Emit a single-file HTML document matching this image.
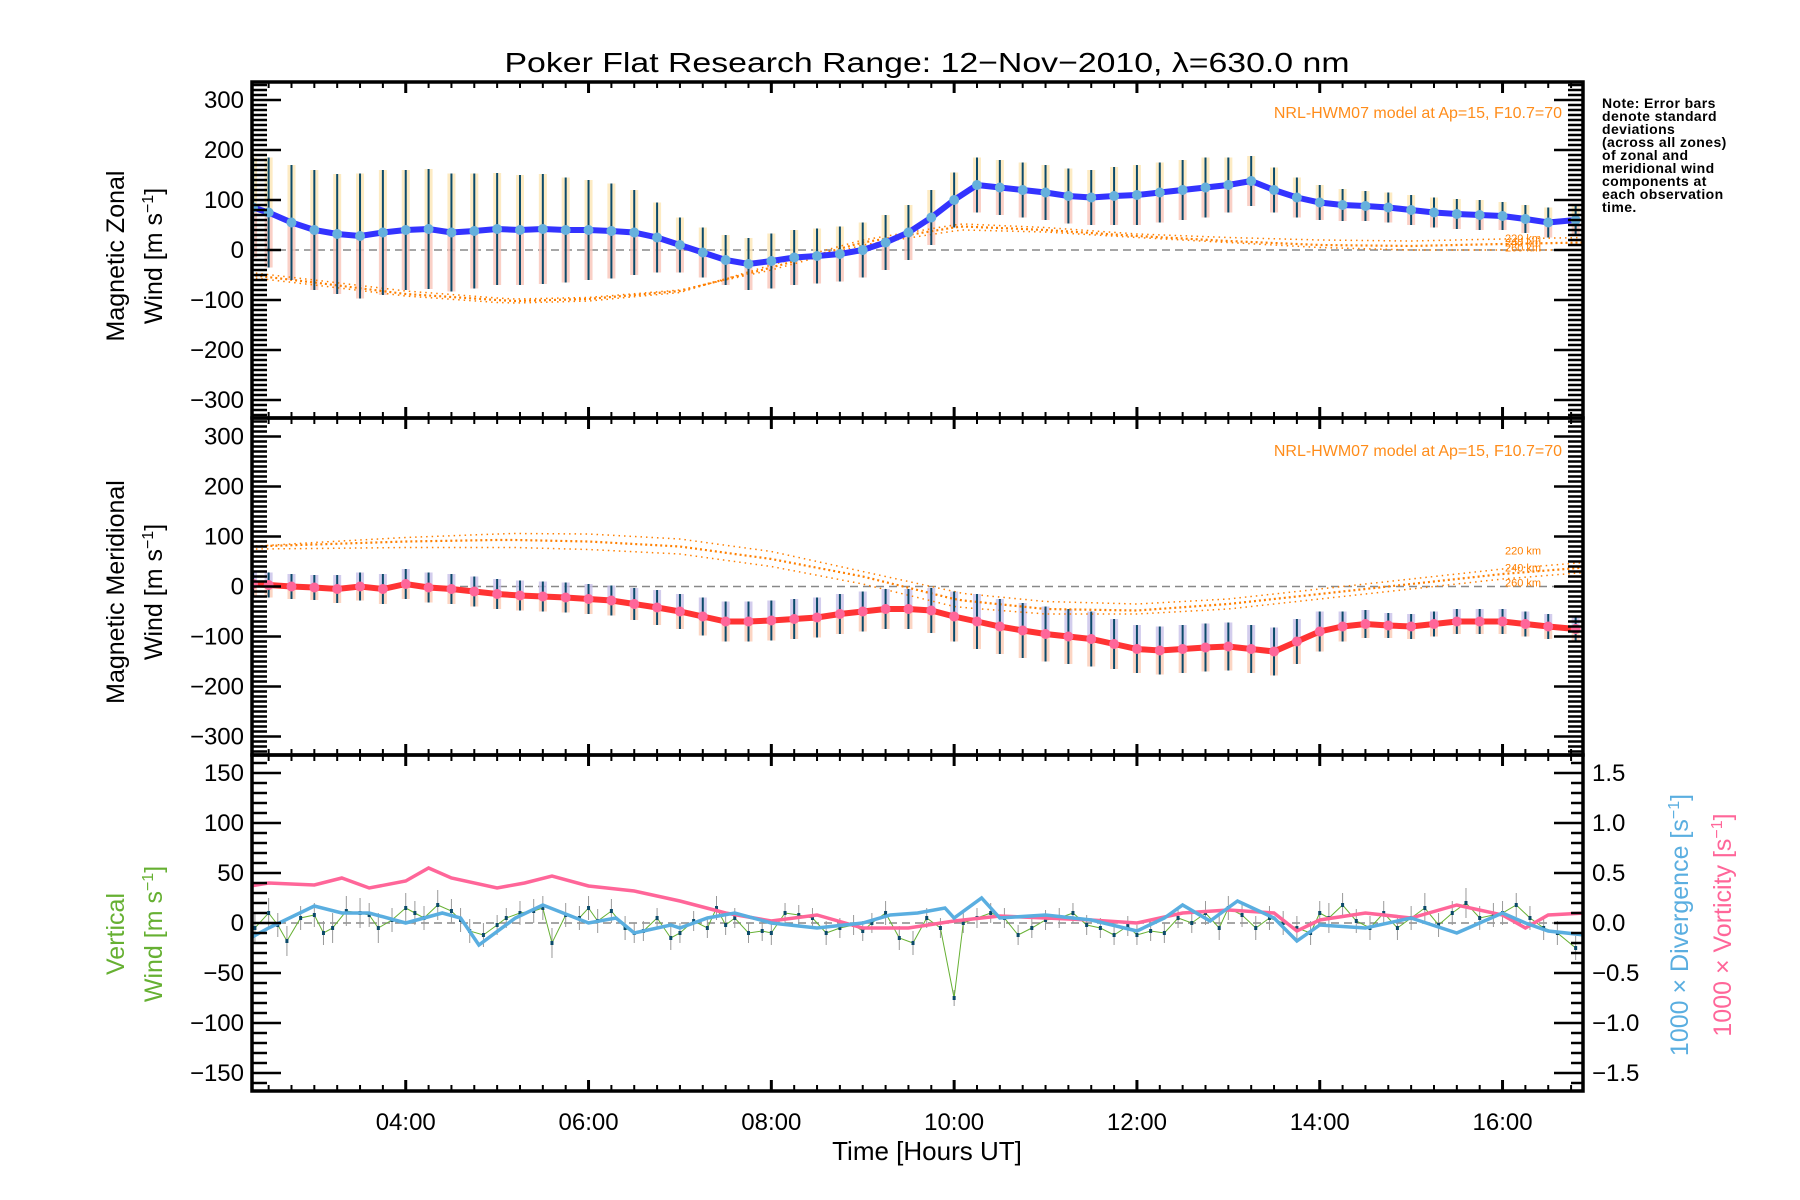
<!DOCTYPE html>
<html><head><meta charset="utf-8"><style>
html,body{margin:0;padding:0;background:#fff;}
svg{display:block;font-family:"Liberation Sans",sans-serif;}
</style></head><body>
<svg id="c" width="1800" height="1200" viewBox="0 0 1800 1200">
<text x="927" y="72" font-size="28" text-anchor="middle" textLength="845" lengthAdjust="spacingAndGlyphs">Poker Flat Research Range: 12−Nov−2010, λ=630.0 nm</text>
<g font-size="14" font-weight="bold" letter-spacing="0.4">
<text x="1602" y="108">Note: Error bars</text><text x="1602" y="121">denote standard</text><text x="1602" y="134">deviations</text><text x="1602" y="147">(across all zones)</text><text x="1602" y="160">of zonal and</text><text x="1602" y="173">meridional wind</text><text x="1602" y="186">components at</text><text x="1602" y="199">each observation</text><text x="1602" y="212">time.</text>
</g>
<text transform="translate(124,256) rotate(-90)" font-size="25" text-anchor="middle">Magnetic Zonal</text>
<text transform="translate(162,256) rotate(-90)" font-size="25" text-anchor="middle">Wind [m s<tspan font-size="16" dy="-9">−1</tspan><tspan dy="9">]</tspan></text>
<text transform="translate(124,592) rotate(-90)" font-size="25" text-anchor="middle">Magnetic Meridional</text>
<text transform="translate(162,592) rotate(-90)" font-size="25" text-anchor="middle">Wind [m s<tspan font-size="16" dy="-9">−1</tspan><tspan dy="9">]</tspan></text>
<text transform="translate(124,934) rotate(-90)" font-size="25" fill="#66b032" text-anchor="middle">Vertical</text>
<text transform="translate(162,934) rotate(-90)" font-size="25" fill="#66b032" text-anchor="middle">Wind [m s<tspan font-size="16" dy="-9">−1</tspan><tspan dy="9">]</tspan></text>
<text transform="translate(1688,925) rotate(-90)" font-size="25" fill="#5aaee0" text-anchor="middle">1000 × Divergence [s<tspan font-size="16" dy="-9">−1</tspan><tspan dy="9">]</tspan></text>
<text transform="translate(1731,925) rotate(-90)" font-size="25" fill="#ff6699" text-anchor="middle">1000 × Vorticity [s<tspan font-size="16" dy="-9">−1</tspan><tspan dy="9">]</tspan></text>
<text x="927" y="1160" font-size="26" text-anchor="middle">Time [Hours UT]</text>
<text x="1562" y="118" font-size="16" fill="#ff8c1a" text-anchor="end">NRL-HWM07 model at Ap=15, F10.7=70</text>
<text x="1562" y="456" font-size="16" fill="#ff8c1a" text-anchor="end">NRL-HWM07 model at Ap=15, F10.7=70</text>
<g id="plot"></g>
</svg>
<script>
// ---- data ----
const zonalTimes=[2.33,2.5,2.75,3.0,3.25,3.5,3.75,4.0,4.25,4.5,4.75,5.0,5.25,5.5,5.75,6.0,6.25,6.5,6.75,7.0,7.25,7.5,7.75,8.0,8.25,8.5,8.75,9.0,9.25,9.5,9.75,10.0,10.25,10.5,10.75,11.0,11.25,11.5,11.75,12.0,12.25,12.5,12.75,13.0,13.25,13.5,13.75,14.0,14.25,14.5,14.75,15.0,15.25,15.5,15.75,16.0,16.25,16.5,16.8];
const zonalWind=[85,75,55,40,32,28,35,40,42,35,38,42,40,42,40,40,38,35,25,10,-5,-20,-28,-22,-15,-12,-8,0,15,35,65,100,130,125,120,115,108,105,108,110,115,120,125,130,138,120,105,95,90,88,85,80,75,72,70,68,62,55,60];
const zonalStd=[100,110,115,120,120,125,125,120,120,118,115,112,110,110,105,100,95,85,70,55,50,50,52,55,55,55,55,55,55,55,55,55,55,55,55,55,55,55,58,60,60,60,60,55,50,45,40,35,32,30,30,30,30,30,30,28,28,30,30];
const meridTimes=zonalTimes;
const meridWind=[5,3,0,-2,-5,0,-5,5,-2,-5,-10,-15,-18,-20,-22,-25,-28,-35,-42,-50,-60,-70,-70,-68,-65,-62,-55,-50,-45,-45,-48,-60,-70,-80,-88,-95,-100,-105,-115,-125,-128,-125,-122,-120,-125,-130,-110,-90,-80,-75,-78,-80,-75,-70,-70,-70,-75,-80,-85];
const meridStd=[25,25,25,25,28,28,30,30,30,30,30,30,30,30,30,30,30,32,35,35,38,40,40,40,40,40,40,40,40,40,45,50,55,55,55,55,55,55,50,48,48,48,48,48,48,48,45,40,30,28,25,25,25,25,25,25,25,25,25];
const modelTimes=[2.3,3,4,5,5.2,6,7,8,9,10,10.1,11,12,13,14,15,16,16.9];
const zonalModel220=[-45,-60,-82,-96,-98,-95,-80,-40,10,38,40,36,25,15,5,0,0,0];
const zonalModel240=[-50,-65,-88,-100,-102,-98,-82,-35,15,45,47,40,28,18,10,8,12,15];
const zonalModel260=[-55,-70,-92,-105,-106,-102,-85,-30,20,50,52,45,32,25,20,18,22,25];
const meridModel220=[80,88,98,105,106,105,95,70,30,-10,-14,-30,-35,-25,-5,15,35,48];
const meridModel240=[80,84,90,93,93,90,80,55,20,-25,-28,-45,-48,-35,-15,5,25,38];
const meridModel260=[75,76,78,78,78,74,65,40,5,-40,-42,-55,-55,-45,-25,-5,15,28];
const vertTimes=[2.35,2.5,2.6,2.7,2.85,3.0,3.1,3.2,3.35,3.5,3.6,3.7,3.85,4.0,4.1,4.2,4.35,4.5,4.6,4.7,4.85,5.0,5.1,5.25,5.4,5.5,5.6,5.75,5.9,6.0,6.1,6.25,6.4,6.5,6.6,6.75,6.9,7.0,7.15,7.3,7.4,7.5,7.6,7.75,7.9,8.0,8.15,8.3,8.45,8.6,8.75,8.9,9.0,9.1,9.25,9.4,9.55,9.7,9.85,10.0,10.1,10.25,10.4,10.55,10.7,10.85,11.0,11.15,11.3,11.45,11.6,11.75,11.9,12.0,12.15,12.3,12.45,12.6,12.75,12.9,13.0,13.15,13.3,13.45,13.6,13.75,13.9,14.0,14.1,14.25,14.4,14.55,14.7,14.85,15.0,15.15,15.3,15.45,15.6,15.75,15.9,16.0,16.15,16.3,16.45,16.6,16.8];
const vertWind=[-5,10,-2,-18,5,8,-10,-5,12,10,8,-5,3,15,10,5,18,12,3,-8,-12,-2,5,10,12,15,-20,8,5,15,2,12,-5,-10,-8,5,-15,-10,2,-5,15,-2,5,-10,-8,-10,10,8,5,-10,-5,-2,-8,0,10,-15,-20,5,-5,-75,0,5,10,5,-12,-5,3,5,10,-2,-5,-12,-3,-12,-8,-10,5,0,10,-5,15,8,-5,5,0,-5,-10,10,5,18,2,-5,10,-5,5,15,-2,10,20,5,8,10,18,5,-5,-10,-25];
const vertStd=[15,15,12,15,12,12,12,15,15,15,12,15,12,15,12,12,15,12,12,12,12,10,10,12,12,12,15,12,12,12,12,12,12,10,10,10,12,10,10,10,12,10,10,10,10,12,10,10,10,12,10,10,10,10,12,12,12,10,10,8,10,10,10,10,10,10,10,10,10,10,10,10,10,10,10,10,10,10,12,12,12,12,12,12,12,12,12,12,15,12,12,12,12,12,12,15,12,12,15,12,12,12,12,12,12,12,12];
const divTimes=[2.3,2.5,3.0,3.3,3.6,4.0,4.4,4.6,4.8,5.2,5.5,6.0,6.3,6.5,6.9,7.0,7.3,7.6,8.0,8.5,9.0,9.3,9.6,9.9,10.0,10.3,10.5,11.0,11.5,12.0,12.3,12.5,12.8,13.1,13.5,13.75,14.0,14.5,15.0,15.5,16.0,16.25,16.5,16.9];
const divergence=[-0.15,-0.05,0.17,0.10,0.10,0.0,0.10,0.05,-0.22,0.05,0.18,0.0,0.05,-0.10,-0.02,-0.05,0.05,0.10,0.0,-0.05,0.0,0.08,0.10,0.15,0.05,0.25,0.05,0.08,0.03,-0.08,0.05,0.18,0.02,0.22,0.05,-0.18,-0.02,-0.05,0.05,-0.10,0.10,0.0,-0.08,-0.12];
const vortTimes=[2.3,2.5,3.0,3.3,3.6,4.0,4.25,4.5,5.0,5.3,5.6,6.0,6.5,7.0,7.5,8.0,8.5,9.0,9.5,10.0,10.5,11.0,11.5,12.0,12.5,13.0,13.5,13.75,14.0,14.5,15.0,15.5,16.0,16.25,16.5,16.9];
const vorticity=[0.37,0.40,0.38,0.45,0.35,0.42,0.55,0.45,0.35,0.40,0.47,0.37,0.32,0.22,0.10,0.02,0.08,-0.05,-0.05,0.02,0.07,0.05,0.03,0.0,0.10,0.13,0.10,-0.08,0.03,0.10,0.05,0.18,0.08,-0.05,0.08,0.10];
const xTickHours=[4,6,8,10,12,14,16];
const xTickLabels=["04:00","06:00","08:00","10:00","12:00","14:00","16:00"];
const windTicks=[300,200,100,0,-100,-200,-300];
const vertTicks=[150,100,50,0,-50,-100,-150];
const rightTicks=[1.5,1.0,0.5,0.0,-0.5,-1.0,-1.5];

// ---- geometry ----
const NS='http://www.w3.org/2000/svg';
const X0=252,X1=1583,H0=2.318,PXH=91.4;
const panels=[{top:82,bot:418},{top:418,bot:755},{top:755,bot:1091}];
function xs(h){return X0+(h-H0)*PXH;}
function ysWind(p,v){const c=(panels[p].top+panels[p].bot)/2;return c-v*0.5;}
function ysVert(v){const c=(panels[2].top+panels[2].bot)/2;return c-v;}
function ysRight(v){return ysVert(v*100);}
const root=document.getElementById('plot');
function el(tag,attrs,parent){const e=document.createElementNS(NS,tag);for(const k in attrs)e.setAttribute(k,attrs[k]);(parent||root).appendChild(e);return e;}
function pathOf(ts,vs,yf){return ts.map((t,i)=>(i?'L':'M')+xs(t).toFixed(1)+','+yf(vs[i]).toFixed(1)).join(' ');}

const defs=el('defs',{});
panels.forEach((p,i)=>{const cp=el('clipPath',{id:'clip'+i},defs);el('rect',{x:X0,y:p.top,width:X1-X0,height:p.bot-p.top},cp);});

[0,1].forEach(p=>{const z=el('line',{x1:X0,x2:X1,y1:ysWind(p,0),y2:ysWind(p,0),stroke:'#888',"stroke-width":1.5,"stroke-dasharray":"8,5"});

});
const z3=el('line',{x1:X0,x2:X1,y1:ysVert(0),y2:ysVert(0),stroke:'#888',"stroke-width":1.5,"stroke-dasharray":"8,5"});



function windPanel(p,ts,vals,stds,m1,m2,m3,lineCol,dotCol,nm){
  const g=el('g',{"clip-path":'url(#clip'+p+')'});
  
  
  const yf=v=>ysWind(p,v);
  ts.forEach((t,i)=>{
    const x=xs(t),v=vals[i],s=stds[i];
    const up=el('rect',{x:x-4,y:yf(v+s),width:8,height:yf(v)-yf(v+s),fill:p==0?'#fde6b4':'#c8c0e8',opacity:0.8},g);
    
    
    const lo=el('rect',{x:x-4,y:yf(v),width:8,height:yf(v-s)-yf(v),fill:p==0?'#f9c4b8':'#fbcbb4',opacity:0.8},g);
    
    
  });
  [m1,m2,m3].forEach((m,k)=>{const l=el('path',{d:pathOf(modelTimes,m,yf),fill:'none',stroke:'#ff7f00',"stroke-width":k==1?2.2:1.5,"stroke-dasharray":k==1?"2,3":"1.5,4"},g);
  
  });
  ts.forEach((t,i)=>{const x=xs(t);const b=el('line',{x1:x,x2:x,y1:yf(vals[i]+stds[i]),y2:yf(vals[i]-stds[i]),stroke:'#0b4a6a',"stroke-width":2},g);
  
  });
  const ln=el('path',{d:pathOf(ts,vals,yf),fill:'none',stroke:lineCol,"stroke-width":6},g);
  
  
  ts.forEach((t,i)=>{const c=el('circle',{cx:xs(t),cy:yf(vals[i]),r:5,fill:dotCol},g);
  
  });
  const last=modelTimes.length-1;
  ['220 km','240 km','260 km'].forEach((s,k)=>{const tx=el('text',{x:1505,y:yf([m1,m2,m3][k][last])+(k==0?-8:k==1?4:14),"font-size":11,fill:'#ff7f00'});tx.textContent=s;
  
  });
}
windPanel(0,zonalTimes,zonalWind,zonalStd,zonalModel220,zonalModel240,zonalModel260,'#3333ff','#66b0dd','zonal');
windPanel(1,meridTimes,meridWind,meridStd,meridModel220,meridModel240,meridModel260,'#ff3333','#ff6699','meridional');

const g3=el('g',{"clip-path":'url(#clip2)'});


vertTimes.forEach((t,i)=>{const x=xs(t);const b=el('line',{x1:x,x2:x,y1:ysVert(vertWind[i]+vertStd[i]),y2:ysVert(vertWind[i]-vertStd[i]),stroke:'#999',"stroke-width":1},g3);

});
const vl=el('path',{d:pathOf(vertTimes,vertWind,ysVert),fill:'none',stroke:'#66b032',"stroke-width":1},g3);


vertTimes.forEach((t,i)=>{const c=el('rect',{x:xs(t)-1.5,y:ysVert(vertWind[i])-2,width:3,height:4,fill:'#0b4a6a'},g3);

});
const vo=el('path',{d:pathOf(vortTimes,vorticity,ysRight),fill:'none',stroke:'#ff6699',"stroke-width":3.5},g3);


const dv=el('path',{d:pathOf(divTimes,divergence,ysRight),fill:'none',stroke:'#5aaee0',"stroke-width":3.5},g3);



panels.forEach((p,pi)=>{
  const fr=el('rect',{x:X0,y:p.top,width:X1-X0,height:p.bot-p.top,fill:'none',stroke:'#000',"stroke-width":3.5});
  
  
  for(let m=Math.ceil(H0*4);m/4<=16.9;m++){const h=m/4,x=xs(h);if(x>X1-1)continue;const major=(m%8==0);const L=major?11:6;
    el('line',{x1:x,x2:x,y1:p.top,y2:p.top+L,stroke:'#000',"stroke-width":major?3:2});
    el('line',{x1:x,x2:x,y1:p.bot,y2:p.bot-L,stroke:'#000',"stroke-width":major?3:2});}
  const rng=pi<2?330:165,step=10,maj=pi<2?100:50;
  const yf=pi<2?(v=>ysWind(pi,v)):ysVert;
  for(let v=-Math.floor(rng/step)*step;v<=rng;v+=step){const y=yf(v);if(y<p.top+1||y>p.bot-1)continue;const major=(v%maj==0);const L=major?29:15;
    el('line',{x1:X0,x2:X0+L,y1:y,y2:y,stroke:'#000',"stroke-width":2.5});
    if(pi<2)el('line',{x1:X1,x2:X1-L,y1:y,y2:y,stroke:'#000',"stroke-width":2.5});}
});
windTicks.forEach(v=>[0,1].forEach(p=>{const t=el('text',{x:244,y:ysWind(p,v)+8,"font-size":24,"text-anchor":'end'});t.textContent=(v<0?'−':'')+Math.abs(v);

}));
vertTicks.forEach(v=>{const t=el('text',{x:244,y:ysVert(v)+8,"font-size":24,"text-anchor":'end'});t.textContent=(v<0?'−':'')+Math.abs(v);

});
for(let k=-16;k<=16;k++){const v=k/10,y=ysRight(v);if(y<755||y>1091)continue;const major=(k%5==0);el('line',{x1:X1,x2:X1-(major?29:12),y1:y,y2:y,stroke:'#000',"stroke-width":2.5});}
rightTicks.forEach(v=>{const t=el('text',{x:1592,y:ysRight(v)+8,"font-size":24});t.textContent=(v<0?'−':'')+Math.abs(v).toFixed(1);

});
xTickHours.forEach((h,i)=>{const t=el('text',{x:xs(h),y:1130,"font-size":24,"text-anchor":'middle'});t.textContent=xTickLabels[i];

});
</script>
</body></html>
